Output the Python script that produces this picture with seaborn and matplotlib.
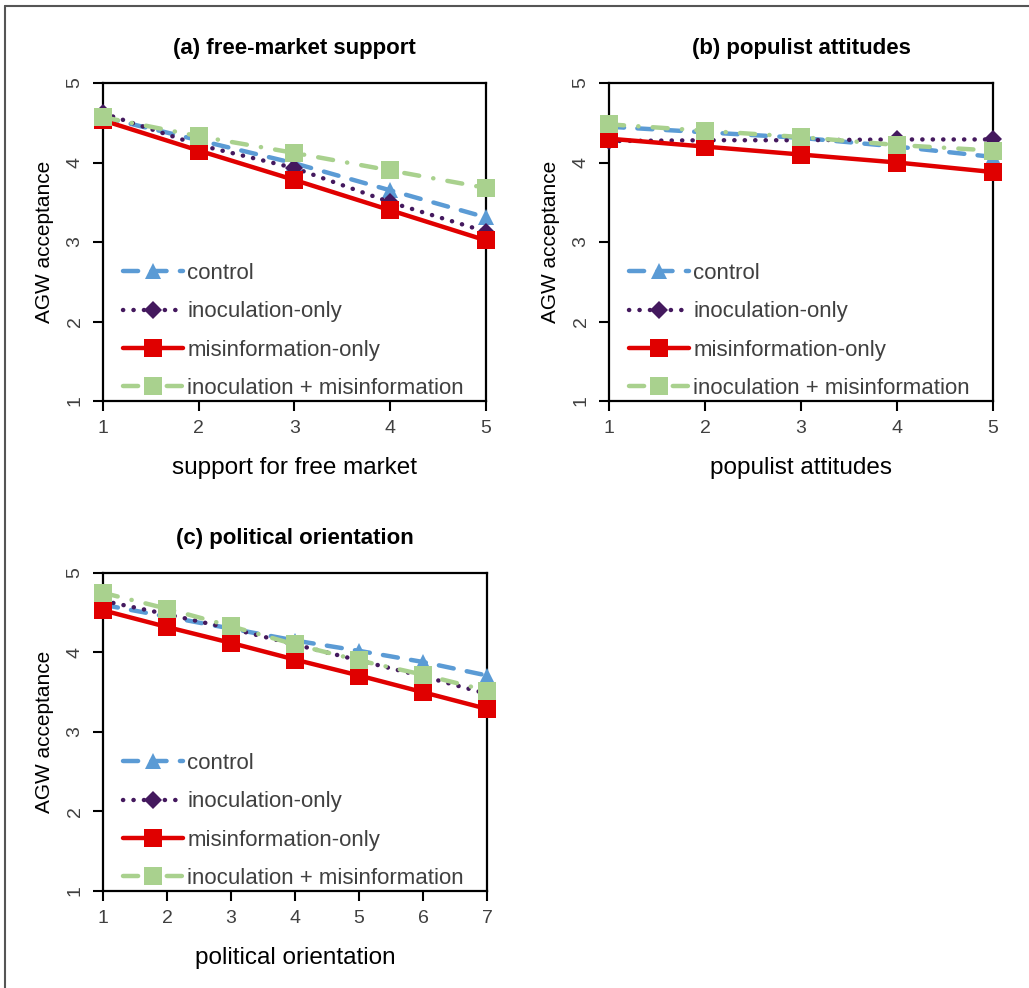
import matplotlib
matplotlib.use('Agg')
import matplotlib.pyplot as plt
import pandas as pd
import seaborn as sns

groups = ['control', 'inoculation-only', 'misinformation-only', 'inoculation + misinformation']

# (a) support for free market, 1..5
fm_x = [1, 2, 3, 4, 5]
fm_control = [4.57, 4.28, 3.99, 3.65, 3.31]
fm_inoc = [4.62, 4.22, 3.93, 3.50, 3.13]
fm_misinfo = [4.53, 4.15, 3.78, 3.40, 3.02]
fm_both = [4.57, 4.33, 4.12, 3.90, 3.68]

# (b) populist attitudes, 1..5
pop_x = [1, 2, 3, 4, 5]
pop_control = [4.45, 4.38, 4.31, 4.20, 4.07]
pop_inoc = [4.27, 4.28, 4.28, 4.29, 4.29]
pop_misinfo = [4.30, 4.20, 4.10, 4.00, 3.88]
pop_both = [4.48, 4.40, 4.32, 4.22, 4.15]

# (c) political orientation, 1..7
po_x = [1, 2, 3, 4, 5, 6, 7]
po_control = [4.60, 4.45, 4.30, 4.15, 4.02, 3.88, 3.71]
po_inoc = [4.65, 4.48, 4.30, 4.10, 3.90, 3.70, 3.48]
po_misinfo = [4.53, 4.32, 4.12, 3.91, 3.71, 3.50, 3.29]
po_both = [4.75, 4.55, 4.33, 4.10, 3.90, 3.72, 3.52]

panels = [
    ('(a) free-market support', 'support for free market', fm_x, [fm_control, fm_inoc, fm_misinfo, fm_both]),
    ('(b) populist attitudes', 'populist attitudes', pop_x, [pop_control, pop_inoc, pop_misinfo, pop_both]),
    ('(c) political orientation', 'political orientation', po_x, [po_control, po_inoc, po_misinfo, po_both]),
]

palette = {'control': '#5B9BD5', 'inoculation-only': '#44195E',
           'misinformation-only': '#E00000', 'inoculation + misinformation': '#A9D18E'}
markers = {'control': '^', 'inoculation-only': 'D',
           'misinformation-only': 's', 'inoculation + misinformation': 's'}
dashes = {'control': (3.4, 3.0), 'inoculation-only': (0.05, 2.3),
          'misinformation-only': '', 'inoculation + misinformation': (3.4, 3.2, 0.05, 3.2)}
msizes = {'control': 12, 'inoculation-only': 9.5, 'misinformation-only': 12.5,
          'inoculation + misinformation': 12.5}

sns.set_theme(style='white')
plt.rcParams['font.family'] = ['Liberation Sans', 'DejaVu Sans']
grey = '#404040'

fig = plt.figure(figsize=(10.29, 9.88), dpi=100)
positions = [(0.1001, 0.5941, 0.3722, 0.3219),
             (0.5918, 0.5941, 0.3732, 0.3219),
             (0.1001, 0.0982, 0.3732, 0.3219)]

for (title, xlabel, xs, series), pos in zip(panels, positions):
    ax = fig.add_axes(pos)
    rows = []
    for g, vals in zip(groups, series):
        for x, v in zip(xs, vals):
            rows.append({'x': x, 'y': v, 'group': g})
    df = pd.DataFrame(rows)
    for g in groups:
        sub = df[df['group'] == g]
        sns.lineplot(data=sub, x='x', y='y', ax=ax, color=palette[g], marker=markers[g],
                     markersize=msizes[g], markeredgewidth=0, lw=3.2,
                     dashes=dashes[g] if dashes[g] else (None, None), label=g,
                     dash_capstyle='round', clip_on=False, zorder=3)
        if not dashes[g]:
            ax.lines[-1].set_linestyle('-')
    ax.set_xlim(xs[0], xs[-1])
    ax.set_ylim(1, 5)
    ax.set_xticks(xs)
    ax.set_yticks([1, 2, 3, 4, 5])
    for s in ax.spines.values():
        s.set_visible(True)
        s.set_color('black')
        s.set_linewidth(1.6)
    ax.tick_params(axis='both', direction='out', length=7, width=1.5, color='black',
                   labelsize=14, labelcolor=grey, bottom=True, left=True, pad=7)
    plt.setp(ax.get_yticklabels(), rotation=90, va='center')
    ax.set_xlabel(xlabel, fontsize=17.5, color='black', labelpad=14)
    ax.set_ylabel('AGW acceptance', fontsize=15, color='black', labelpad=9)
    ax.set_title(title, fontsize=16, fontweight='bold', color='black', pad=21)
    leg = ax.legend(loc='lower left', bbox_to_anchor=(0.029, -0.022), frameon=False,
                    fontsize=16, handlelength=2.7, handletextpad=0.2, labelspacing=0.78,
                    borderaxespad=0.0)
    for t in leg.get_texts():
        t.set_color(grey)

# border round the whole figure (only top and left edges fall inside the image)
fig.add_artist(plt.Line2D([0.005, 0.005], [0.0, 0.994], transform=fig.transFigure,
                          color='#555555', lw=1.5))
fig.add_artist(plt.Line2D([0.005, 1.0], [0.994, 0.994], transform=fig.transFigure,
                          color='#555555', lw=1.5))

fig.savefig('out.png', dpi=100)
